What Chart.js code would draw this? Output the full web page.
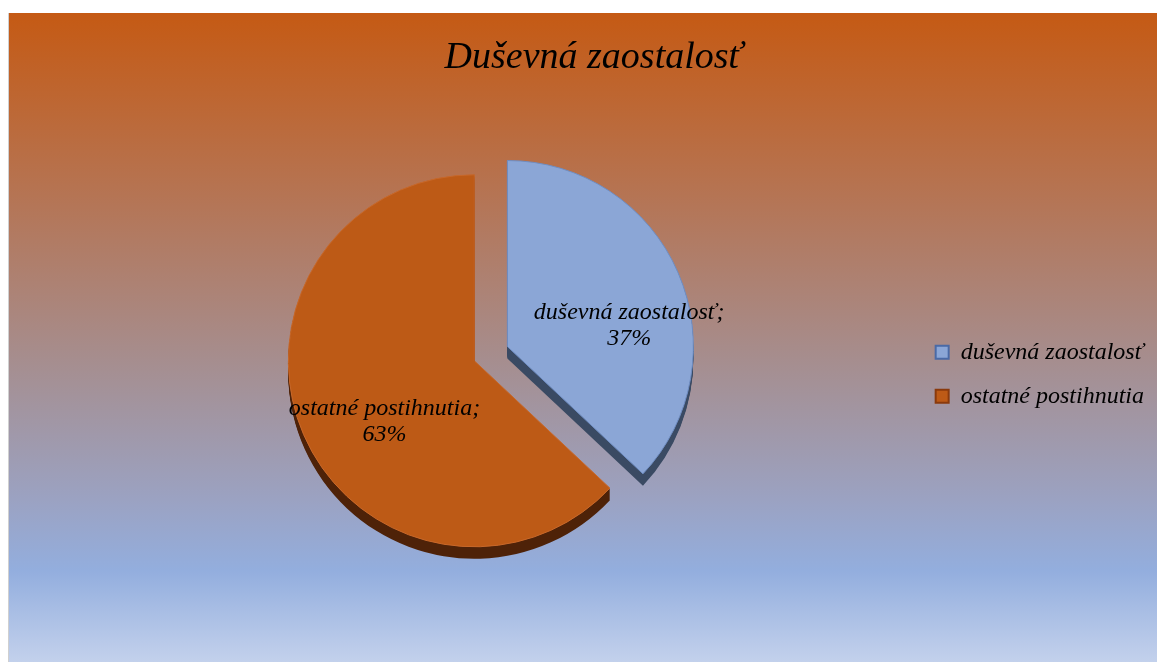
<!DOCTYPE html>
<html lang="sk">

<head>
    <meta charset="UTF-8">
    <title>Duševná zaostalosť</title>
    <script src="https://cdn.jsdelivr.net/npm/chart.js"></script>
    <style>
        body { margin: 0; background: #fff; width: 1157px; height: 662px; overflow: hidden; }
        #wrap { position: absolute; left: 8px; top: 13px; width: 1149px; height: 649px; border-left: 1px solid #d0d0d0; box-sizing: border-box; }
    </style>
</head>

<body>
    <div id="wrap">
        <canvas id="myChart"></canvas>
    </div>

    <script>
        // data
        const labels = ['duševná zaostalosť', 'ostatné postihnutia'];
        const values = [37, 63];

        // styl
        const faceColors = ['#8BA6D6', '#BD5A16'];
        const edgeColors = ['#6F8DC2', '#C8682A'];
        const sideColors = ['#3A4A63', '#4E2208'];
        const legendBorder = ['#4A6AA6', '#8A3A0C'];
        const explode = [36, 0];   // px, vysunutie vysekov
        const depth = 12;          // hrubka "3D" boku

        const serif = "'Liberation Serif', 'Times New Roman', serif";

        // gradient pozadie
        const bgPlugin = {
            id: 'bg',
            beforeDraw(chart) {
                const { ctx, width, height } = chart;
                const g = ctx.createLinearGradient(0, 0, 0, height);
                g.addColorStop(0, '#C55A14');
                g.addColorStop(0.3, '#B47658');
                g.addColorStop(0.55, '#A58F92');
                g.addColorStop(0.75, '#9BA2C2');
                g.addColorStop(0.86, '#93AEDE');
                g.addColorStop(1, '#C3D1EC');
                ctx.save();
                ctx.fillStyle = g;
                ctx.fillRect(0, 0, width, height);
                ctx.restore();
            }
        };

        // vysunutie vyseku po osi
        const explodePlugin = {
            id: 'explode',
            afterDatasetUpdate(chart, args) {
                args.meta.data.forEach((arc, i) => {
                    const half = (arc.startAngle + arc.endAngle) / 2;
                    arc.x += Math.cos(half) * explode[i];
                    arc.y += Math.sin(half) * explode[i];
                });
            }
        };

        // "3D" bok kolaca
        const sidePlugin = {
            id: 'side',
            beforeDatasetsDraw(chart) {
                const ctx = chart.ctx;
                chart.getDatasetMeta(0).data.forEach((arc, i) => {
                    ctx.save();
                    ctx.fillStyle = sideColors[i];
                    for (let k = 1; k <= depth; k++) {
                        ctx.beginPath();
                        ctx.moveTo(arc.x, arc.y + k);
                        ctx.arc(arc.x, arc.y + k, arc.outerRadius, arc.startAngle, arc.endAngle);
                        ctx.closePath();
                        ctx.fill();
                    }
                    ctx.restore();
                });
            }
        };

        // popisky na kolaci
        const labelPlugin = {
            id: 'sliceLabels',
            afterDatasetsDraw(chart) {
                const ctx = chart.ctx;
                const total = values.reduce((a, b) => a + b, 0);
                chart.getDatasetMeta(0).data.forEach((arc, i) => {
                    const half = (arc.startAngle + arc.endAngle) / 2;
                    const d = arc.outerRadius * 0.62;
                    const x = arc.x + Math.cos(half) * d + 16;
                    const y = arc.y + Math.sin(half) * d * 0.9 + 20;
                    ctx.save();
                    ctx.fillStyle = '#000';
                    ctx.font = 'italic 24px ' + serif;
                    ctx.textAlign = 'center';
                    ctx.textBaseline = 'middle';
                    ctx.fillText(labels[i] + ';', x, y - 13);
                    ctx.fillText(Math.round(values[i] / total * 100) + '%', x, y + 13);
                    ctx.restore();
                });
            }
        };

        const ctx = document.getElementById('myChart');

        new Chart(ctx, {
            type: 'pie',
            data: {
                labels: labels,
                datasets: [{
                    data: values,
                    backgroundColor: faceColors,
                    borderColor: edgeColors,
                    borderWidth: 1,
                }]
            },
            options: {
                responsive: true,
                maintainAspectRatio: false,
                animation: false,
                events: [],
                radius: 186,
                layout: {
                    padding: { left: 24, right: 3, top: 0, bottom: 36 }
                },
                plugins: {
                    title: {
                        display: true,
                        text: 'Duševná zaostalosť',
                        color: '#000',
                        font: { family: serif, size: 38, style: 'italic', weight: 'normal' },
                        padding: { top: 22, bottom: 15 },
                    },
                    legend: {
                        position: 'right',
                        title: { display: true, text: '', padding: { top: 95, bottom: 0 } },
                        labels: {
                            color: '#000',
                            font: { family: serif, size: 24, style: 'italic' },
                            boxWidth: 13,
                            boxHeight: 13,
                            padding: 20,
                            generateLabels: (chart) => {
                                const items = Chart.overrides.pie.plugins.legend.labels.generateLabels(chart);
                                items.forEach((it, i) => {
                                    it.strokeStyle = legendBorder[i];
                                    it.lineWidth = 2;
                                });
                                return items;
                            }
                        }
                    },
                    tooltip: { enabled: false }
                }
            },
            plugins: [bgPlugin, explodePlugin, sidePlugin, labelPlugin]
        });
    </script>
</body>

</html>
